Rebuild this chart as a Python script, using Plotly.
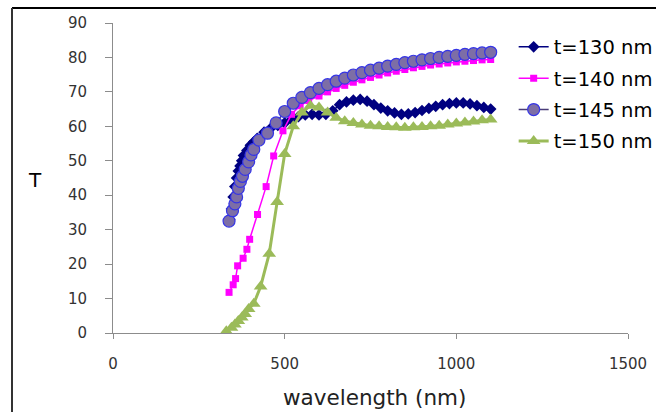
import plotly.graph_objects as go

# t=130 nm
x130 = [340, 345, 350, 355, 360, 365, 370, 375, 380, 390, 400, 410, 420, 440, 460, 480, 500, 520, 540, 560,
        580, 600, 620, 640, 660, 680, 700, 720, 740, 760, 780, 800, 820, 840, 860, 880, 900, 920, 940, 960,
        980, 1000, 1020, 1040, 1060, 1080, 1100]
y130 = [33, 36, 39.5, 42.5, 45, 47, 48.5, 50, 51.5, 53, 54.5, 55.5, 56.5, 58.3, 59.5, 60.3, 61, 62, 62.8, 63.3,
        63.5, 63.3, 63.5, 64.5, 66.3, 67.1, 67.6, 67.8, 67.3, 66.3, 65.3, 64.5, 63.9, 63.5, 63.6, 64, 64.6, 65.2, 65.8, 66.3,
        66.6, 66.8, 66.8, 66.5, 66, 65.5, 65]

# t=140 nm
x140 = [338, 350, 357, 363, 379, 390, 398, 421, 446, 468, 495, 520, 545, 570, 600, 625, 650, 675, 700, 725,
        750, 775, 800, 825, 850, 875, 900, 925, 950, 975, 1000, 1025, 1050, 1075, 1100]
y140 = [11.8, 14, 15.8, 19.5, 21.7, 24.3, 27.2, 34.4, 42.5, 51.4, 58.7, 63.5, 66, 67.5, 68.8, 70, 71, 71.9, 72.8, 73.5,
        74.2, 74.9, 75.5, 76, 76.5, 77, 77.4, 77.8, 78.1, 78.4, 78.7, 78.9, 79.1, 79.3, 79.4]

# t=145 nm
x145 = [338, 348, 355, 360, 365, 371, 377, 385, 395, 402, 410, 425, 450, 475, 500, 525, 550, 575, 600, 625,
        650, 675, 700, 725, 750, 775, 800, 825, 850, 875, 900, 925, 950, 975, 1000, 1025, 1050, 1075, 1100]
y145 = [32.5, 35.5, 37.5, 39.5, 42, 44, 45.5, 47.5, 49.7, 51.7, 53.3, 56, 58, 61, 64.3, 66.7, 68.4, 69.8, 71, 72.1,
        73.1, 74, 74.9, 75.6, 76.3, 76.9, 77.5, 78, 78.5, 78.9, 79.3, 79.7, 80, 80.3, 80.6, 80.9, 81.1, 81.3, 81.5]

# t=150 nm
x150 = [330, 345, 355, 365, 375, 385, 395, 410, 430, 455, 478, 500, 525, 550, 575, 600, 625, 650, 675, 700,
        725, 750, 775, 800, 825, 850, 875, 900, 925, 950, 975, 1000, 1025, 1050, 1075, 1100]
y150 = [0.5, 1.5, 2.5, 3.5, 4.5, 5.5, 7, 8.5, 13.5, 23, 38, 52, 60, 64, 66, 65.5, 64, 62.5, 61.5, 61,
        60.5, 60.2, 60, 59.8, 59.7, 59.6, 59.7, 59.8, 60, 60.2, 60.5, 60.8, 61.1, 61.4, 61.8, 62]

names = ["t=130 nm", "t=140 nm", "t=145 nm", "t=150 nm"]

x_ticks = [0, 500, 1000, 1500]
y_ticks = [0, 10, 20, 30, 40, 50, 60, 70, 80, 90]

FONT = "DejaVu Sans"

fig = go.Figure()
fig.add_trace(go.Scatter(x=x130, y=y130, name=names[0], mode="lines+markers", legendgroup="a",
                         line=dict(color="#000080", width=1.5),
                         marker=dict(symbol="diamond", size=9, color="#000080")))
fig.add_trace(go.Scatter(x=x140, y=y140, name=names[1], mode="lines+markers", legendgroup="b",
                         line=dict(color="#FF00FF", width=1.5),
                         marker=dict(symbol="square", size=7, color="#FF00FF")))
fig.add_trace(go.Scatter(x=x145, y=y145, name=names[2], mode="lines+markers", legendgroup="c",
                         line=dict(color="#4a3d78", width=1.5),
                         marker=dict(symbol="circle", size=12, color="#7d6ea6",
                                     line=dict(color="#3535e6", width=1.2))))
fig.add_trace(go.Scatter(x=x150, y=y150, name=names[3], mode="lines+markers", legendgroup="d",
                         line=dict(color="#9BBB59", width=3),
                         marker=dict(symbol="triangle-up", size=12, color="#9BBB59")))

fig.update_layout(
    width=656, height=412,
    margin=dict(l=113, r=28, t=23, b=79, autoexpand=False),
    plot_bgcolor="white", paper_bgcolor="white",
    font=dict(family=FONT, color="#333333"),
    showlegend=True,
    legend=dict(x=0.778, y=0.985, xanchor="left", yanchor="top",
                font=dict(family=FONT, size=19.5, color="#000000"),
                bgcolor="rgba(0,0,0,0)", borderwidth=0,
                traceorder="grouped", tracegroupgap=3),
    xaxis=dict(range=[0, 1500], tickvals=x_ticks, ticktext=[str(v) for v in x_ticks],
               showline=True, linecolor="#8c8c8c", linewidth=1, showgrid=False, zeroline=False,
               ticks="outside", ticklen=5, tickcolor="#8c8c8c",
               tickfont=dict(family=FONT, size=15, color="#333333"), ticklabelstandoff=12),
    yaxis=dict(range=[0, 90], tickvals=y_ticks, ticktext=[str(v) for v in y_ticks],
               showline=True, linecolor="#8c8c8c", linewidth=1, showgrid=False, zeroline=False,
               ticks="outside", ticklen=7, tickcolor="#8c8c8c",
               tickfont=dict(family=FONT, size=15, color="#333333"), ticklabelstandoff=15),
    annotations=[
        dict(text="T", xref="paper", yref="paper", x=(35 - 113) / 515, y=(333.3 - 180) / 310.3,
             showarrow=False, xanchor="center", yanchor="middle",
             font=dict(family=FONT, size=20, color="#000000")),
        dict(text="wavelength (nm)", xref="paper", yref="paper", x=(374 - 113) / 515,
             y=(333.3 - 398) / 310.3, showarrow=False, xanchor="center", yanchor="middle",
             font=dict(family=FONT, size=21.5, color="#222222")),
    ],
    shapes=[
        dict(type="line", xref="paper", yref="paper", x0=(12 - 113) / 515, x1=1.2,
             y0=1 + 15 / 310.3, y1=1 + 15 / 310.3, line=dict(color="#000000", width=2)),
        dict(type="line", xref="paper", yref="paper", x0=(12 - 113) / 515, x1=(12 - 113) / 515,
             y0=1 + 15 / 310.3, y1=-0.4, line=dict(color="#333333", width=2)),
    ],
)

fig.write_html("out.html")
